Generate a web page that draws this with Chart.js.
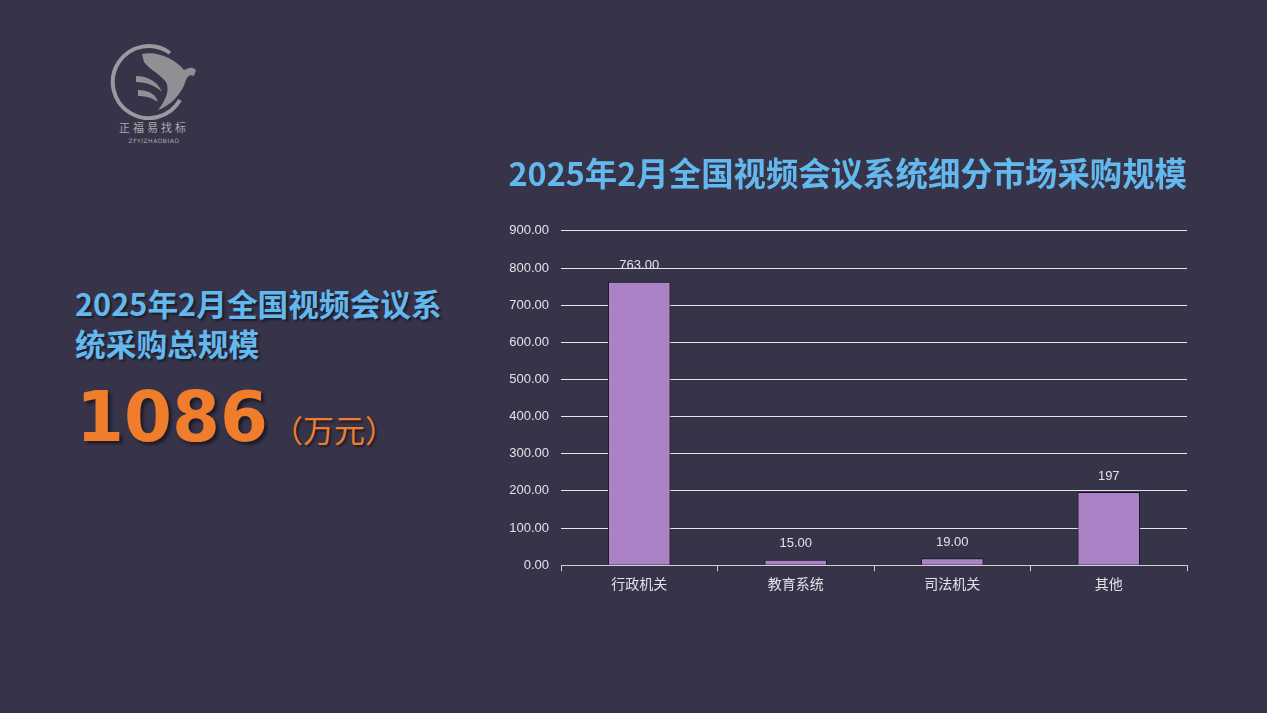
<!DOCTYPE html>
<html><head><meta charset="utf-8">
<script src="https://cdn.jsdelivr.net/npm/chart.js@4/dist/chart.umd.min.js"></script>
<style>
html,body{margin:0;padding:0;background:#37344a;width:1267px;height:713px;overflow:hidden;font-family:"Noto Sans CJK SC","Noto Sans",sans-serif;}
#wrap{position:absolute;left:480px;top:140px;width:712px;height:470px;}
.lt{position:absolute;left:75px;top:283px;color:#63b8ee;font-size:30.7px;font-weight:bold;line-height:40px;text-shadow:2px 2px 2px #1e1c28;}
.num{position:absolute;left:76px;top:372px;color:#ef7d2c;font-family:"DejaVu Sans",sans-serif;font-weight:bold;font-size:69px;line-height:90px;text-shadow:3px 3px 3px #1e1c28;}
.unit{position:absolute;left:272px;top:407px;color:#ef7d2c;font-size:31px;line-height:44px;text-shadow:2px 2px 2px #1e1c28;}
.lg1{position:absolute;left:113px;top:119px;width:82px;text-align:center;color:#a9a9ad;font-size:11px;letter-spacing:3px;font-family:"Noto Sans CJK SC";}
.lg2{position:absolute;left:113px;top:137px;width:82px;text-align:center;color:#a9a9ad;font-size:6px;letter-spacing:0.5px;font-family:"DejaVu Sans";}
</style></head>
<body>
<svg style="position:absolute;left:100px;top:40px" width="110" height="80" viewBox="0 0 110 80">
  <path d="M 70 13 A 36 36 0 1 0 80 60" fill="none" stroke="#9a9a9e" stroke-width="4"/>
  <path d="M 42 14 C 60 10 78 22 84 30 C 88 28 92 26 96 30 L 94 36 C 90 34 88 36 86 40 C 82 54 70 66 58 70 C 66 60 70 50 66 42 C 60 34 50 30 44 22 Z" fill="#8f8f94"/>
  <path d="M 36 36 C 48 36 58 42 62 52 C 56 46 46 42 36 42 Z" fill="#8f8f94"/>
  <path d="M 38 50 C 48 50 56 54 58 62 C 52 58 46 56 38 56 Z" fill="#8f8f94"/>
</svg>
<div class="lg1">正福易找标</div>
<div class="lg2">ZFYIZHAOBIAO</div>
<div class="lt">2025年2月全国视频会议系<br>统采购总规模</div>
<div class="num">1086</div>
<div class="unit">（万元）</div>
<div id="wrap"><canvas id="c"></canvas></div>
<script>
const categories = ['行政机关','教育系统','司法机关','其他'];
const values = [763, 15, 19, 197];
const valueLabels = ['763.00','15.00','19.00','197'];
const yTicks = [0,100,200,300,400,500,600,700,800,900];
const chartTitle = '2025年2月全国视频会议系统细分市场采购规模';

const labelPlugin = {
  id:'valLabels',
  afterDatasetsDraw(chart){
    const ctx = chart.ctx;
    const meta = chart.getDatasetMeta(0);
    ctx.save();
    ctx.fillStyle = '#e2e2e6';
    ctx.font = '13px "Liberation Sans", Arial, sans-serif';
    ctx.textAlign = 'center';
    ctx.textBaseline = 'middle';
    meta.data.forEach((bar,i)=>{
      ctx.fillText(valueLabels[i], bar.x, bar.y - 16);
    });
    ctx.restore();
  }
};

new Chart(document.getElementById('c'), {
  type:'bar',
  data:{labels:categories, datasets:[{data:values, backgroundColor:'#ab82c5', borderColor:'#15131f', borderWidth:1, barPercentage:0.4, categoryPercentage:1}]},
  plugins:[labelPlugin],
  options:{
    responsive:true, maintainAspectRatio:false, animation:false,
    layout:{padding:{left:0,right:5,top:0,bottom:14}},
    plugins:{
      legend:{display:false}, tooltip:{enabled:false},
      title:{display:true, text:chartTitle, align:'end', color:'#63b8ee',
        font:{size:32.4, weight:'bold', family:'"Noto Sans CJK SC", sans-serif'},
        padding:{top:14,bottom:38}}
    },
    scales:{
      x:{
        grid:{drawOnChartArea:false, drawTicks:true, tickLength:6, color:'#d0d0d4', offset:true},
        border:{display:true, color:'#d0d0d4', width:1},
        ticks:{color:'#e2e2e6', padding:4, font:{size:14, family:'"Noto Sans CJK SC", sans-serif'}}
      },
      y:{
        min:0, max:900,
        afterFit(s){ s.width = 81; },
        afterBuildTicks(s){ s.ticks = yTicks.map(v=>({value:v})); },
        grid:{color:'#e6e6ea', lineWidth:1, drawTicks:false},
        border:{display:false},
        ticks:{color:'#e2e2e6', padding:12, font:{size:13, family:'"Liberation Sans", Arial, sans-serif'},
          callback:(v)=>Number(v).toFixed(2)}
      }
    }
  }
});
</script>
</body></html>
